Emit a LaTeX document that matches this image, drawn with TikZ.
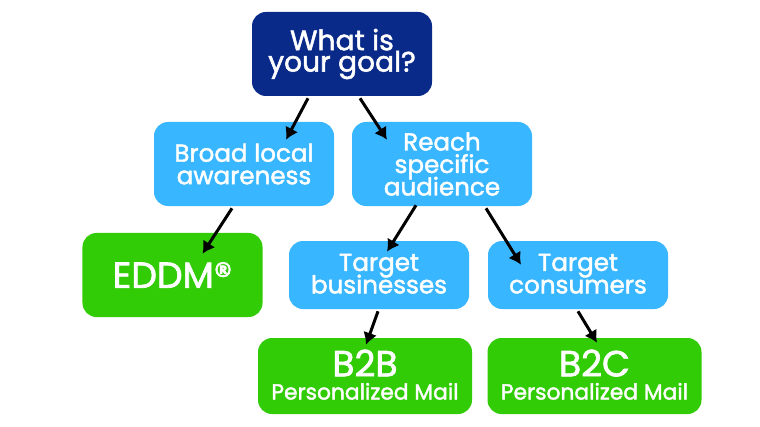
\documentclass[tikz,border=0pt]{standalone}
\usepackage{fontspec}
\setmainfont{Poppins}[FakeBold=1.8]
\usetikzlibrary{arrows.meta}
\definecolor{goalblue}{HTML}{0A2A8A}
\definecolor{stepblue}{HTML}{38B6FF}
\definecolor{mailgreen}{HTML}{31CC05}
\lineskiplimit=-30pt
\tikzset{
  flowbox/.style = {rounded corners=3.5mm, text = white, align = center, inner sep = 0pt,
                    minimum width = 45mm, font = \fontsize{17.5}{16}\selectfont},
  goalbox/.style = {flowbox, fill = goalblue, minimum height = 21mm, font = \fontsize{20}{15.2}\selectfont},
  stepbox/.style = {flowbox, fill = stepblue, minimum height = 21mm},
  lowbox/.style = {stepbox, minimum height = 17mm, text depth = 2pt},
  mailbox/.style = {flowbox, fill = mailgreen, minimum width = 53.5mm, minimum height = 19mm, text depth = 2pt},
  bigtext/.style = {font = \fontsize{25.8}{24}\selectfont},
  flow/.style = {-{Latex[length=3mm, width=3.6mm]}, line width = 0.75mm, black}
}
\newcommand{\mailtext}[1]{{\fontsize{25.8}{22}\selectfont #1}\\[0.5pt]{\fontsize{15.5}{15}\selectfont Personalized Mail}}
\begin{document}
\begin{tikzpicture}[x = 0.25mm, y = -0.25mm]
    \useasboundingbox (0, 0) rectangle (760, 427);
    \node[goalbox] (goal) at (342, 54) {What is\\your goal?};
    \node[stepbox] (broad) at (244, 164) {Broad local\\awareness};
    \node[stepbox] (reach) at (442, 164) {Reach\\specific\\audience};
    \node[flowbox, fill = mailgreen, minimum height = 21mm, bigtext] (eddm) at (172.5, 275) {EDDM®};
    \node[lowbox] (business) at (379, 275) {Target\\businesses};
    \node[lowbox] (consumer) at (578, 275) {Target\\consumers};
    \node[mailbox] (btob) at (365, 376) {\mailtext{B2B}};
    \node[mailbox] (btoc) at (594.5, 376) {\mailtext{B2C}};
    % arrows start under the box and end just inside the next one
    \draw[flow] ([shift={(-34, 2)}]goal.south) -- ([shift={(42, 18)}]broad.north);
    \draw[flow] ([shift={(18, 2)}]goal.south) -- ([shift={(-55, 18)}]reach.north);
    \draw[flow] ([shift={(-12, 2)}]broad.south) -- ([shift={(30, 21)}]eddm.north);
    \draw[flow] ([shift={(-26, -1)}]reach.south) -- ([shift={(8, 11)}]business.north);
    \draw[flow] ([shift={(44, 2)}]reach.south) -- ([shift={(-57, 24)}]consumer.north);
    \draw[flow] ([shift={(-1, 2)}]business.south) -- ([shift={(1, 7)}]btob.north);
    \draw[flow] ([shift={(0, 2)}]consumer.south) -- ([shift={(2.5, 5)}]btoc.north);
\end{tikzpicture}
\end{document}
